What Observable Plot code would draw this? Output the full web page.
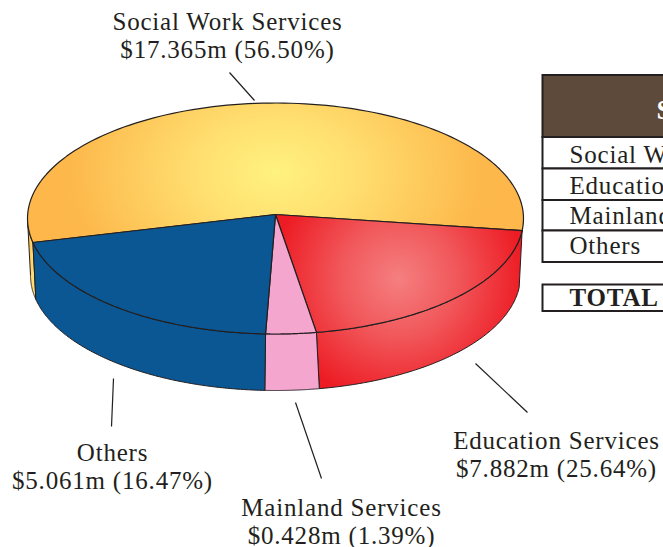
<!DOCTYPE html>
<html>
<head>
<meta charset="utf-8">
<script src="https://cdn.jsdelivr.net/npm/d3@7"></script>
<script src="https://cdn.jsdelivr.net/npm/@observablehq/plot@0.6"></script>
<style>html,body{margin:0;padding:0;background:#fff;overflow:hidden}</style>
</head>
<body>
<div id="chart"></div>
<script>
const services = ["Social Work Services", "Education Services", "Mainland Services", "Others"];
const amounts = ["$17.365m", "$7.882m", "$0.428m", "$5.061m"];
const shares = ["56.50%", "25.64%", "1.39%", "16.47%"];
// Slice edges as drawn in the picture (degrees clockwise from the right-hand rim)
const sliceFrom = [168, 6, 80.5, 92.3];
const sliceTo = [366, 80.5, 92.3, 168];
const sliceFills = ["url(#gradYellow)", "url(#gradRed)", "#f4a6ce", "#0b5794"];
const tableTitle = "S";
const tableRows = ["Social Work Services", "Education Services", "Mainland Services", "Others"];
const totalLabel = "TOTAL";

// Layout
const ink = "#231f20";
const upperRim = {cx: 275, cy: 218, rx: 248, ry: 115.5, ax: 275, ay: 214};
const lowerRim = {cx: 275, cy: 275, rx: 245, ry: 115};
const rad = d => d * Math.PI / 180;
const on = (e, t) => ({x: e.cx + e.rx * Math.cos(rad(t)), y: e.cy + e.ry * Math.sin(rad(t))});
const arc = (e, a, b) => d3.range(0, 121).map(i => on(e, a + (b - a) * i / 120));

const topPaths = sliceFrom.map((a, i) => {
  const pts = arc(upperRim, a, sliceTo[i]);
  return [{x: upperRim.ax, y: upperRim.ay}, ...pts, {x: upperRim.ax, y: upperRim.ay}];
});
const wall = (a, b, la = a, lb = b) => {
  const upper = arc(upperRim, a, b), lower = arc(lowerRim, lb, la);
  return [...upper, ...lower, upper[0]];
};
const walls = [
  {d: wall(168, 180), fill: "url(#gradSide)"},
  {d: wall(6, 80.5, 6, 79.7), fill: sliceFills[1]},
  {d: wall(80.5, 92.3, 79.7, 92.5), fill: sliceFills[2]},
  {d: wall(92.3, 168, 92.5, 168), fill: sliceFills[3]}
];

const labelPos = [
  {x: 227, y1: 29, y2: 57},
  {x: 556, y1: 448, y2: 476},
  {x: 341, y1: 515, y2: 543},
  {x: 112, y1: 460, y2: 488}
];
const labels = services.flatMap((s, i) => [
  {t: s, x: labelPos[i].x, y: labelPos[i].y1},
  {t: `${amounts[i]} (${shares[i]})`, x: labelPos[i].x, y: labelPos[i].y2}
]);
const leaders = [
  {x1: 229, y1: 72, x2: 254, y2: 100},
  {x1: 475, y1: 363, x2: 527, y2: 412},
  {x1: 295, y1: 402, x2: 321, y2: 478},
  {x1: 113, y1: 378, x2: 111, y2: 426}
];
const rowBoxes = [
  {y1: 137, y2: 168.5, b: 162},
  {y1: 168.5, y2: 200, b: 193},
  {y1: 200, y2: 230.5, b: 223},
  {y1: 230.5, y2: 262, b: 253}
];

const defs = () => {
  const ns = "http://www.w3.org/2000/svg";
  const g = document.createElementNS(ns, "g");
  g.innerHTML = `<defs>
    <radialGradient id="gradYellow" gradientUnits="userSpaceOnUse" cx="275" cy="172" r="225"
      gradientTransform="translate(275 172) scale(1 0.7) translate(-275 -172)">
      <stop offset="0" stop-color="#fff27f"/><stop offset="0.35" stop-color="#ffdf70"/><stop offset="0.9" stop-color="#fdb94c"/><stop offset="1" stop-color="#fdb74a"/>
    </radialGradient>
    <radialGradient id="gradRed" gradientUnits="userSpaceOnUse" cx="398" cy="278" r="125">
      <stop offset="0" stop-color="#f57f80"/><stop offset="0.45" stop-color="#f1595c"/><stop offset="1" stop-color="#ed1c24"/>
    </radialGradient>
    <linearGradient id="gradSide" gradientUnits="userSpaceOnUse" x1="27" x2="33" y1="0" y2="0">
      <stop offset="0" stop-color="#fdb74a"/><stop offset="1" stop-color="#ffe27a"/>
    </linearGradient>
  </defs>`;
  return g;
};

const plot = Plot.plot({
  width: 663, height: 547, margin: 0,
  x: {domain: [0, 663], range: [0, 663], axis: null},
  y: {domain: [0, 547], range: [0, 547], axis: null},
  style: {background: "#fff", fontFamily: "'Liberation Serif', serif", color: ink, letterSpacing: "0.8px"},
  marks: [
    defs,
    ...walls.map(w => Plot.line(w.d, {x: "x", y: "y", fill: w.fill, stroke: ink, strokeWidth: 1, curve: "linear"})),
    ...topPaths.map((d, i) => Plot.line(d, {x: "x", y: "y", fill: sliceFills[i], stroke: ink, strokeWidth: 1.2, curve: "linear"})),
    Plot.link(leaders, {x1: "x1", y1: "y1", x2: "x2", y2: "y2", stroke: ink, strokeWidth: 1.2}),
    Plot.text(labels, {x: "x", y: "y", text: "t", fontSize: 25, lineAnchor: "bottom", textAnchor: "middle", fill: ink}),
    Plot.rect([{x1: 542.5, x2: 690, y1: 75, y2: 137}], {x1: "x1", x2: "x2", y1: "y1", y2: "y2", fill: "#5e4a3b", stroke: ink, strokeWidth: 2}),
    Plot.text([tableTitle], {x: 656, y: 118, text: d => d, fontSize: 28, fontWeight: "bold", fill: "#fff", textAnchor: "start", lineAnchor: "bottom"}),
    Plot.rect(rowBoxes, {x1: 542.5, x2: 690, y1: "y1", y2: "y2", fill: "#fff", stroke: ink, strokeWidth: 2}),
    Plot.text(tableRows, {x: 569, y: (d, i) => rowBoxes[i].b, text: d => d, fontSize: 25, fill: ink, textAnchor: "start", lineAnchor: "bottom"}),
    Plot.rect([{x1: 542.5, x2: 690, y1: 284.5, y2: 311}], {x1: "x1", x2: "x2", y1: "y1", y2: "y2", fill: "#fff", stroke: ink, strokeWidth: 2}),
    Plot.text([totalLabel], {x: 569, y: 305, text: d => d, fontSize: 25, fontWeight: "bold", fill: ink, textAnchor: "start", lineAnchor: "bottom"})
  ]
});
document.getElementById("chart").appendChild(plot);
</script>
</body>
</html>
